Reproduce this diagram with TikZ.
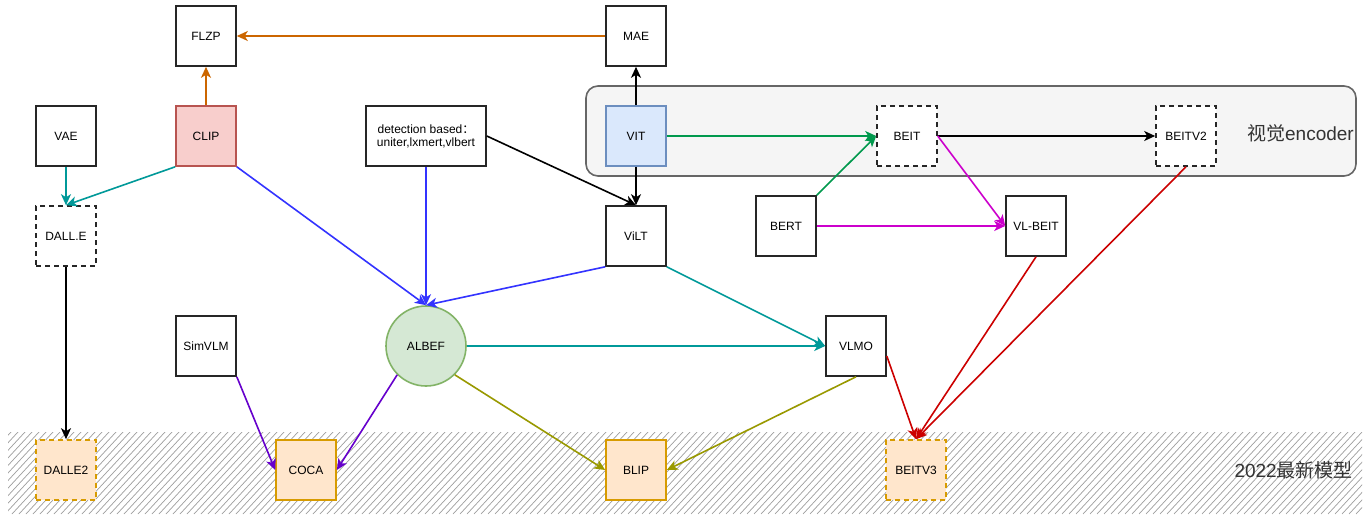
\documentclass[tikz,border=0pt]{standalone}
\usepackage{fontspec}
\setmainfont{Liberation Sans}
\newfontfamily\cjk{Noto Sans CJK SC}
\usetikzlibrary{arrows.meta}
\definecolor{corange}{HTML}{CC6600}
\definecolor{cteal}{HTML}{009999}
\definecolor{cblue}{HTML}{3333FF}
\definecolor{cgreen}{HTML}{00994D}
\definecolor{cmag}{HTML}{CC00CC}
\definecolor{cpurp}{HTML}{6600CC}
\definecolor{colive}{HTML}{999900}
\definecolor{cred}{HTML}{CC0000}
\definecolor{clipfill}{HTML}{F8CECC}
\definecolor{clipdraw}{HTML}{B85450}
\definecolor{vitfill}{HTML}{DAE8FC}
\definecolor{vitdraw}{HTML}{6C8EBF}
\definecolor{albfill}{HTML}{D5E8D4}
\definecolor{albdraw}{HTML}{82B366}
\definecolor{newfill}{HTML}{FFE6CC}
\definecolor{newdraw}{HTML}{D79B00}
\definecolor{encfill}{HTML}{F5F5F5}
\definecolor{encdraw}{HTML}{666666}
\definecolor{labtext}{HTML}{333333}
\tikzset{
  box/.style={draw=black!85, line width=1.6pt, minimum width=60pt, minimum height=60pt, inner sep=0pt, fill=white, font=\fontsize{12}{14}\selectfont, align=center},
  dbox/.style={box, dashed, dash pattern=on 5pt off 4pt},
  newbox/.style={box, fill=newfill, draw=newdraw},
  container/.style={draw=encdraw, fill=encfill, line width=1.6pt, rounded corners=12pt, minimum width=770pt, minimum height=90pt, inner sep=0pt},
  conn/.style={line width=1.6pt, -{Stealth[length=11pt,width=10pt,inset=3pt]}},
  hatchline/.style={draw=black!38, line width=0.7pt},
  biglabel/.style={font=\fontsize{19}{22}\selectfont, text=labtext, inner sep=0pt}
}
\begin{document}
\begin{tikzpicture}[x=1pt,y=-1pt]
\useasboundingbox[fill=white] (0,0) rectangle (1364,519);
% hatched band
\begin{scope}
\clip (8,432) rectangle (1362,514);
\foreach \x in {-100,-93,...,1400} \draw[hatchline] (\x,514) -- (\x+76,432);
\end{scope}
\node[biglabel, anchor=east] (lab2022) at (1353,470) {2022{\cjk 最新模型}};
% container
\node[container] (enc) at (971,131) {};
\node[biglabel, anchor=east] (labenc) at (1354,133) {{\cjk 视觉}encoder};
% nodes
\node[box] (FLZP) at (206,36) {FLZP};
\node[box] (MAE) at (636,36) {MAE};
\node[box] (VAE) at (66,136) {VAE};
\node[box, fill=clipfill, draw=clipdraw] (CLIP) at (206,136) {CLIP};
\node[dbox] (DALLE) at (66,236) {DALL.E};
\node[box, minimum width=120pt] (det) at (426,136) {detection based{\cjk ：}\\[-1pt]uniter,lxmert,vlbert};
\node[box, fill=vitfill, draw=vitdraw] (VIT) at (636,136) {VIT};
\node[dbox] (BEIT) at (907,136) {BEIT};
\node[dbox] (BEITV2) at (1186,136) {BEITV2};
\node[box] (ViLT) at (636,236) {ViLT};
\node[box] (BERT) at (786,226) {BERT};
\node[box] (VLBEIT) at (1036,226) {VL-BEIT};
\node[box] (SimVLM) at (206,346) {SimVLM};
\node[box, circle, minimum size=80pt, fill=albfill, draw=albdraw] (ALBEF) at (426,346) {ALBEF};
\node[box] (VLMO) at (856,346) {VLMO};
\node[newbox, dashed, dash pattern=on 5pt off 4pt] (DALLE2) at (66,470) {DALLE2};
\node[newbox] (COCA) at (306,470) {COCA};
\node[newbox] (BLIP) at (636,470) {BLIP};
\node[newbox, dashed, dash pattern=on 5pt off 4pt] (BEITV3) at (916,470) {BEITV3};
% connectors
\draw[conn, corange] (MAE.west) -- (FLZP.east);
\draw[conn, corange] (CLIP.north) -- (FLZP.south);
\draw[conn, black] (VIT.north) -- (MAE.south);
\draw[conn, cteal] (VAE.south) -- (DALLE.north);
\draw[conn, cteal] (CLIP.south west) -- (DALLE.north);
\draw[conn, cblue] (CLIP.south east) -- (ALBEF.north);
\draw[conn, cblue] (det.south) -- (ALBEF.north);
\draw[conn, cblue] (ViLT.south west) -- (ALBEF.north);
\draw[conn, black] (det.east) -- (ViLT.north);
\draw[conn, black] (VIT.south) -- (ViLT.north);
\draw[conn, cgreen] (VIT.east) -- (BEIT.west);
\draw[conn, cgreen] (BERT.north east) -- (BEIT.west);
\draw[conn, black] (BEIT.east) -- (BEITV2.west);
\draw[conn, cmag] (BEIT.east) -- (VLBEIT.west);
\draw[conn, cmag] (BERT.east) -- (VLBEIT.west);
\draw[conn, cteal] (ViLT.south east) -- (VLMO.west);
\draw[conn, cteal] (ALBEF.east) -- (VLMO.west);
\draw[conn, black] (DALLE.south) -- (DALLE2.north);
\draw[conn, cpurp] (SimVLM.south east) -- (COCA.west);
\draw[conn, cpurp] (ALBEF.south west) -- (COCA.east);
\draw[conn, colive] (ALBEF.south east) -- (BLIP.west);
\draw[conn, colive] (VLMO.south) -- (BLIP.east);
\draw[conn, cred] ([yshift=-10pt]VLMO.east) -- (BEITV3.north);
\draw[conn, cred] (VLBEIT.south) -- (BEITV3.north);
\draw[conn, cred] (BEITV2.south) -- (BEITV3.north);
\end{tikzpicture}
\end{document}
